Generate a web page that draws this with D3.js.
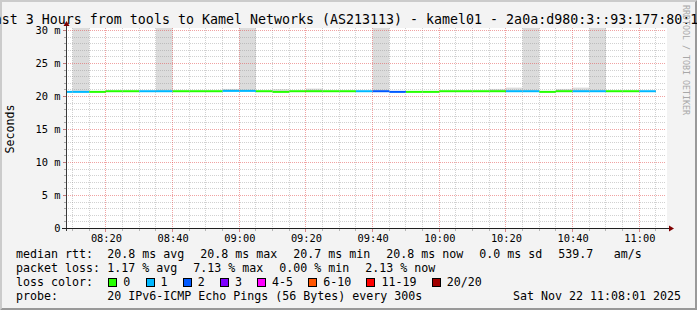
<!DOCTYPE html>
<html>
<head>
<meta charset="utf-8">
<script src="https://cdn.jsdelivr.net/npm/d3@7"></script>
<style>
html, body { margin: 0; padding: 0; background: #f3f3f3; }
svg { display: block; }
text { font-family: "DejaVu Sans Mono", monospace; fill: #000; }
</style>
</head>
<body>
<div id="chart"></div>
<script>
// 5 minute steps (end time of each step)
const stepEnds = ["08:10","08:15","08:20","08:25","08:30","08:35","08:40","08:45","08:50","08:55",
  "09:00","09:05","09:10","09:15","09:20","09:25","09:30","09:35","09:40","09:45",
  "09:50","09:55","10:00","10:05","10:10","10:15","10:20","10:25","10:30","10:35",
  "10:40","10:45","10:50","10:55","11:00","11:05"];

// median rtt in ms
const medianRtt = [20.7,20.7,20.7,20.8,20.8,20.8,20.8,20.8,20.8,20.8,
  20.85,20.85,20.8,20.7,20.8,20.8,20.8,20.8,20.8,20.8,
  20.7,20.7,20.7,20.8,20.8,20.8,20.8,20.8,20.8,20.7,
  20.8,20.8,20.8,20.8,20.8,20.8];

// lost pings out of 20
const lostPings = [1,1,0,0,0,1,1,0,0,0,
  1,1,0,0,0,0,0,0,1,2,
  2,0,0,0,0,0,0,1,1,0,
  0,1,1,0,0,1];

// highest ping of the step (smoke), ms
const smokeTop = [20.7,31,20.7,20.8,20.8,20.8,31,20.8,20.8,20.8,
  21.15,31,20.8,21.1,20.8,21.2,20.8,20.8,20.8,31,
  20.7,20.7,20.7,20.8,20.8,20.8,21.15,21.35,31,20.7,
  21.15,21.35,31,20.8,20.8,20.8];

const lossLevels = ["0","1","2","3","4-5","6-10","11-19","20/20"];
const lossColors = ["#26ff00","#00b8ff","#0059ff","#7e00ff","#ff00ff","#ff5500","#ff0000","#a10000"];

const yTickValues = [0,5,10,15,20,25,30];
const yTickLabels = ["0","5 m","10 m","15 m","20 m","25 m","30 m"];
const xTickLabels = ["08:20","08:40","09:00","09:20","09:40","10:00","10:20","10:40","11:00"];

const titleText = "Last 3 Hours from tools to Kamel Networks (AS213113) - kamel01 - 2a0a:d980:3::93:177:80:1";
const medianLegend = ["20.8 ms avg","20.8 ms max","20.7 ms min","20.8 ms now","0.0 ms sd","539.7","am/s"];
const lossLegend = ["1.17 % avg","7.13 % max","0.00 % min","2.13 % now"];
const probeText = "20 IPv6-ICMP Echo Pings (56 Bytes) every 300s";
const dateText = "Sat Nov 22 11:08:01 2025";

(() => {
const W = 697, H = 310;
const pLeft = 66, pRight = 666, pTop = 28, pBottom = 228;

const svg = d3.select("#chart").append("svg")
  .attr("width", W)
  .attr("height", H);

// background + shading frame
svg.append("rect").attr("width", W).attr("height", H).attr("fill", "#f3f3f3");
svg.append("path")
  .attr("d", `M0,0H${W}L${W-2},2H2V${H-2}L0,${H}Z`)
  .attr("fill", "#cbcbcb");
svg.append("path")
  .attr("d", `M${W},0V${H}H0L2,${H-2}H${W-2}V2Z`)
  .attr("fill", "#999999");

const parseHM = d3.timeParse("%H:%M");
const parseHMS = d3.timeParse("%H:%M:%S");

const x = d3.scaleTime()
  .domain([parseHMS("08:08:01"), parseHMS("11:08:01")])
  .range([pLeft, pRight]);

const y = d3.scaleLinear()
  .domain([0, 200 / 6.6])
  .range([pBottom + 0.5, pTop + 0.5]);

const steps = stepEnds.map((s, i) => {
  const end = parseHM(s);
  return {
    start: d3.timeMinute.offset(end, -5),
    end: end,
    median: medianRtt[i],
    lost: lostPings[i],
    smoke: smokeTop[i]
  };
});

// canvas
svg.append("rect")
  .attr("x", pLeft).attr("y", pTop)
  .attr("width", pRight - pLeft + 1).attr("height", pBottom - pTop)
  .attr("fill", "#ffffff");

svg.append("clipPath").attr("id", "plotclip")
  .append("rect")
  .attr("x", pLeft).attr("y", pTop)
  .attr("width", pRight - pLeft).attr("height", pBottom - pTop);

const plot = svg.append("g").attr("clip-path", "url(#plotclip)");

// smoke
plot.selectAll("rect.smoke")
  .data(steps.filter(d => d.smoke > d.median))
  .enter()
  .append("rect")
  .attr("class", "smoke")
  .attr("x", d => x(d.start))
  .attr("width", d => x(d.end) - x(d.start))
  .attr("y", d => y(d.smoke))
  .attr("height", d => y(d.median) - y(d.smoke))
  .attr("fill", "#dcdcdc");

// grid
const px = v => Math.floor(v) + 0.5;
const minorColor = "rgba(140,140,140,0.4)";
const majorColor = "rgba(225,70,70,0.5)";

const minorTimes = d3.timeMinute.every(5).range(x.domain()[0], x.domain()[1])
  .filter(t => t.getMinutes() % 20 !== 0);
const majorTimes = xTickLabels.map(parseHM);

const grid = svg.append("g");
grid.selectAll("line.vmin")
  .data(minorTimes)
  .enter().append("line")
  .attr("x1", d => px(x(d))).attr("x2", d => px(x(d)))
  .attr("y1", pTop).attr("y2", pBottom)
  .attr("stroke", minorColor)
  .attr("stroke-dasharray", "1,1");

const minorValues = d3.range(1, 31).filter(v => v % 5 !== 0);
grid.selectAll("line.hmin")
  .data(minorValues)
  .enter().append("line")
  .attr("x1", pLeft).attr("x2", pRight)
  .attr("y1", d => px(y(d))).attr("y2", d => px(y(d)))
  .attr("stroke", minorColor)
  .attr("stroke-dasharray", "1,1");

grid.selectAll("line.vmaj")
  .data(majorTimes)
  .enter().append("line")
  .attr("x1", d => px(x(d))).attr("x2", d => px(x(d)))
  .attr("y1", pTop).attr("y2", pBottom)
  .attr("stroke", majorColor)
  .attr("stroke-dasharray", "1,1");

grid.selectAll("line.hmaj")
  .data(yTickValues.filter(v => v > 0))
  .enter().append("line")
  .attr("x1", pLeft).attr("x2", pRight)
  .attr("y1", d => px(y(d))).attr("y2", d => px(y(d)))
  .attr("stroke", majorColor)
  .attr("stroke-dasharray", "1,1");

// median rtt, coloured by loss
plot.selectAll("line.median")
  .data(steps)
  .enter()
  .append("line")
  .attr("class", "median")
  .attr("x1", d => x(d.start))
  .attr("x2", d => x(d.end))
  .attr("y1", d => y(d.median))
  .attr("y2", d => y(d.median))
  .attr("stroke", d => lossColors[d.lost])
  .attr("stroke-width", 2);

// small ticks on axes
const ticks = svg.append("g");
ticks.selectAll("line.ty")
  .data(d3.range(0, 31))
  .enter().append("line")
  .attr("x1", d => d % 5 === 0 ? pLeft - 3 : pLeft - 2).attr("x2", pLeft)
  .attr("y1", d => px(y(d))).attr("y2", d => px(y(d)))
  .attr("stroke", d => d % 5 === 0 ? "rgba(160,40,40,0.6)" : "rgba(120,120,120,0.6)");
ticks.selectAll("line.tx")
  .data(minorTimes.concat(majorTimes))
  .enter().append("line")
  .attr("x1", d => px(x(d))).attr("x2", d => px(x(d)))
  .attr("y1", pBottom + 1).attr("y2", d => d.getMinutes() % 20 === 0 ? pBottom + 4 : pBottom + 3)
  .attr("stroke", d => d.getMinutes() % 20 === 0 ? "rgba(200,60,60,0.6)" : "rgba(120,120,120,0.5)");

// axis lines + arrows
svg.append("line")
  .attr("x1", pLeft + 0.5).attr("x2", pLeft + 0.5)
  .attr("y1", pBottom + 3).attr("y2", pTop - 3)
  .attr("stroke", "#3a3a3a");
svg.append("line")
  .attr("x1", pLeft - 4).attr("x2", pRight + 4)
  .attr("y1", pBottom + 0.5).attr("y2", pBottom + 0.5)
  .attr("stroke", "#1f1f1f");
svg.append("path")
  .attr("d", `M${pLeft + 0.5},${pTop - 7}L${pLeft + 3.5},${pTop - 2}L${pLeft - 2.5},${pTop - 2}Z`)
  .attr("fill", "#7f0000");
svg.append("path")
  .attr("d", `M${pRight + 8},${pBottom + 0.5}L${pRight + 3},${pBottom - 2.5}L${pRight + 3},${pBottom + 3.5}Z`)
  .attr("fill", "#7f0000");

// axis labels
const axisFont = "10.35px";
const yAxis = svg.append("g")
  .attr("transform", `translate(${pLeft},0)`)
  .call(d3.axisLeft(y).tickValues(yTickValues).tickFormat((d, i) => yTickLabels[i]).tickSize(0));
yAxis.select(".domain").remove();
yAxis.selectAll("text")
  .attr("x", -5.5)
  .attr("dy", "0.32em")
  .style("font-family", "'DejaVu Sans Mono', monospace")
  .style("font-size", axisFont)
  .attr("fill", "#000");

const xAxis = svg.append("g")
  .attr("transform", `translate(0,${pBottom})`)
  .call(d3.axisBottom(x).tickValues(majorTimes).tickFormat((d, i) => xTickLabels[i]).tickSize(0));
xAxis.select(".domain").remove();
xAxis.selectAll("text")
  .attr("y", 13.5)
  .attr("dy", null)
  .style("font-family", "'DejaVu Sans Mono', monospace")
  .style("font-size", axisFont)
  .attr("fill", "#000");

// title
svg.append("text")
  .attr("x", 342)
  .attr("y", 23.5)
  .attr("text-anchor", "middle")
  .style("font-size", "13.3px")
  .text(titleText);

// unit label
svg.append("text")
  .attr("transform", `translate(14,${(pTop + pBottom) / 2 + 1}) rotate(-90)`)
  .attr("text-anchor", "middle")
  .style("font-size", "11.63px")
  .text("Seconds");

// watermark
svg.append("text")
  .attr("transform", "translate(683,5) rotate(90)")
  .style("font-size", "8.3px")
  .style("fill", "#a8a8a8")
  .text("RRDTOOL / TOBI OETIKER");

// legend
const legendFont = "11.63px";
const lg = svg.append("g").style("font-size", legendFont);
const rowY = [258, 272, 286, 300];
const col0 = 16, col1 = 107.3, gap = 16;

function row(labels, yPos, lastGap) {
  let cx = col1;
  labels.forEach((t, i) => {
    const el = lg.append("text").attr("x", cx).attr("y", yPos).text(t);
    const extra = (lastGap && i === labels.length - 2) ? lastGap : gap;
    cx += el.node().getComputedTextLength() + extra;
  });
}

lg.append("text").attr("x", col0).attr("y", rowY[0]).text("median rtt:");
row(medianLegend, rowY[0], 20.4);
lg.append("text").attr("x", col0).attr("y", rowY[1]).text("packet loss:");
row(lossLegend, rowY[1]);
lg.append("text").attr("x", col0).attr("y", rowY[2]).text("loss color:");

let bx = 108.3;
lossLevels.forEach((lvl, i) => {
  lg.append("rect")
    .attr("x", Math.round(bx) + 0.5)
    .attr("y", 278.5)
    .attr("width", 8)
    .attr("height", 8)
    .attr("fill", lossColors[i])
    .attr("stroke", "#000");
  const el = lg.append("text").attr("x", bx + 15).attr("y", rowY[2]).text(lvl);
  bx += 15 + el.node().getComputedTextLength() + 15.2;
});

lg.append("text").attr("x", col0).attr("y", rowY[3]).text("probe:");
lg.append("text").attr("x", col1).attr("y", rowY[3]).text(probeText);
lg.append("text").attr("x", 681).attr("y", rowY[3]).attr("text-anchor", "end").text(dateText);
})();
</script>
</body>
</html>
